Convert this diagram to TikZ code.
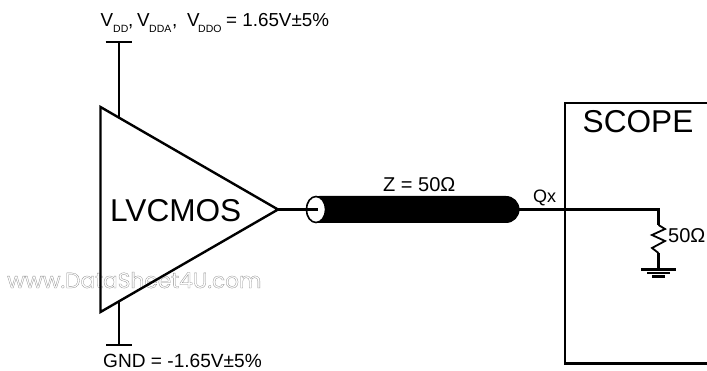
\documentclass[tikz,border=0pt]{standalone}
\usepackage{fontspec}
\setmainfont{Liberation Sans}
\newfontfamily\wmfont{Poppins}
\tikzset{
  wire/.style={line width=2.4pt, line cap=butt},
  thinwire/.style={line width=1.8pt, line join=miter},
  lbl/.style={inner sep=0pt, anchor=base west, text=black},
  big/.style={lbl,font=\fontsize{31.6}{32}\selectfont},
  mid/.style={lbl,font=\fontsize{18.8}{19}\selectfont},
  sub/.style={lbl,font=\fontsize{10.5}{11}\selectfont},
}
\begin{document}
\begin{tikzpicture}[x=1pt,y=-1pt]
\useasboundingbox (0,0) rectangle (707,371);
% scope
\coordinate (st) at (707,103);
\coordinate (stl) at (565,103);
\coordinate (sbl) at (565,363.5);
\coordinate (sb) at (707,363.5);
\draw[wire,miter limit=10] (st) -- (stl) -- (sbl) -- (sb);
\node[big] (scope) at (582.5,133) {SCOPE};
% amplifier
\coordinate (ta) at (100.5,107);
\coordinate (tb) at (100.5,312);
\coordinate (tc) at (278,209.5);
\coordinate (vt) at (119,42);
\coordinate (vb) at (119,117.5);
\coordinate (gt) at (119,301);
\coordinate (gb) at (119,345);
\draw[wire] (vb) -- (vt);
\draw[wire] (gt) -- (gb);
\draw[wire] (105.5,42) -- (131.5,42);
\draw[wire] (106,345) -- (132,345);
% watermark
\node[lbl,text=black!45,font=\wmfont\fontsize{21.7}{22}\selectfont] (wm) at (7,288) {\special{pdf:code 1 Tr 0.3 w}www.DataSheet4U.com\special{pdf:code 0 Tr}};
\draw[wire,line join=miter] (ta) -- (tb) -- (tc) -- cycle;
\node[big] (lv) at (110,222) {LVCMOS};
% cable
\coordinate (cl) at (316,209.5);
\fill[black,rounded corners=13.5pt] (306,196) rectangle (519.5,223);
\draw[line width=1.6pt,fill=white] (cl) ellipse (9.6 and 13);
\coordinate (wend) at (318,209.5);
\coordinate (rt) at (658.5,209.5);
\coordinate (r1) at (658.5,225);
\coordinate (r2) at (658.5,253);
\coordinate (g1) at (658.5,269);
\draw[wire] (tc) -- (wend);
\draw[wire] (519,209.5) -- (rt) -- (r1);
\draw[thinwire] (r1) -- (665,229) -- (652,235) -- (665,241) -- (652,248) -- (r2);
\draw[wire] (r2) -- (g1);
\draw[wire] (641,269.5) -- (676,269.5);
\draw[wire] (647,273) -- (670,273);
\draw[wire] (652,276.5) -- (665,276.5);
% labels
\node[mid,font=\fontsize{20}{20}\selectfont] (z) at (383,192) {Z = 50Ω};
\node[mid,font=\fontsize{18}{18}\selectfont] (qx) at (533,203) {Qx};
\node[mid,font=\fontsize{20}{20}\selectfont] (ohm) at (668,243) {50Ω};
\node[mid,font=\fontsize{19.1}{19}\selectfont] (gnd) at (103,367) {GND = -1.65V±5\%};
\node[mid] (v1) at (100.5,27) {V};
\node[sub] (v1s) at (113,33) {DD};
\node[mid] (v1c) at (128,27) {,};
\node[mid] (v2) at (137,27) {V};
\node[sub] (v2s) at (149,33) {DDA};
\node[mid] (v2c) at (172,27) {,};
\node[mid] (v3) at (187,27) {V};
\node[sub] (v3s) at (198,33) {DDO};
\node[mid] (v3t) at (226,27) {= 1.65V±5\%};
\end{tikzpicture}
\end{document}
